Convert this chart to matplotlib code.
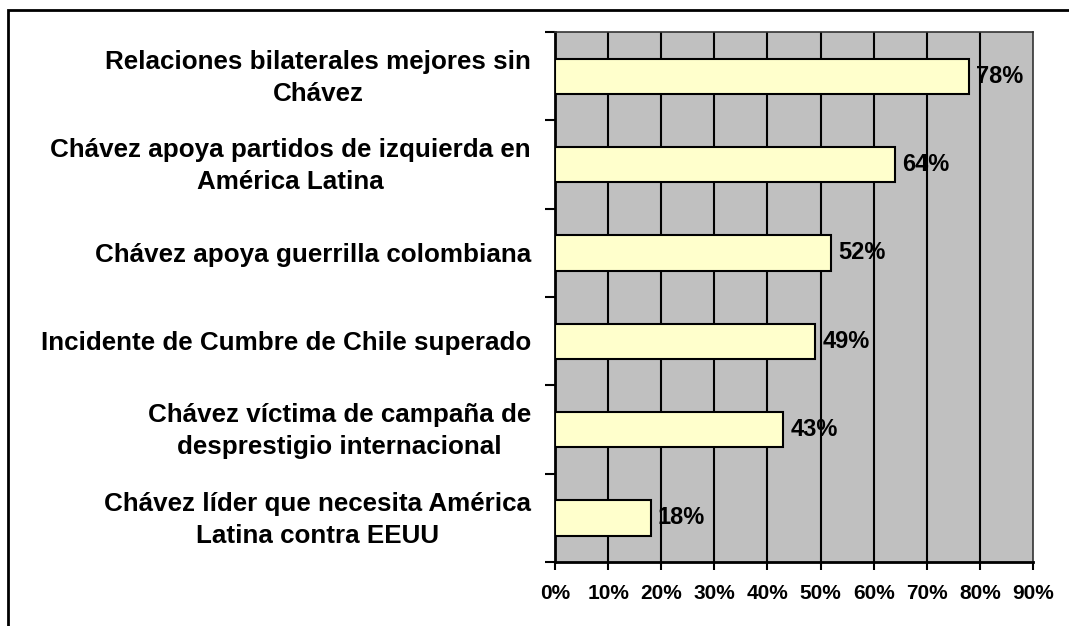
import matplotlib.pyplot as plt
from matplotlib.patches import Rectangle

# survey results, top to bottom
categories = [
    'Relaciones bilaterales mejores sin\nChávez',
    'Chávez apoya partidos de izquierda en\nAmérica Latina',
    'Chávez apoya guerrilla colombiana',
    'Incidente de Cumbre de Chile superado',
    'Chávez víctima de campaña de\ndesprestigio internacional',
    'Chávez líder que necesita América\nLatina contra EEUU',
]
values = [78, 64, 52, 49, 43, 18]
xticks = [0, 10, 20, 30, 40, 50, 60, 70, 80, 90]

plt.rcParams['font.family'] = ['Liberation Sans', 'DejaVu Sans']
plt.rcParams['font.weight'] = 'bold'

fig = plt.figure(figsize=(10.69, 6.26), dpi=100)
W, H = 1069, 626
ax = fig.add_axes([555 / W, 1 - 562 / H, (1033 - 555) / W, (562 - 32) / H])

# outer chart border (cropped at right and bottom)
fig.patches.append(Rectangle((8 / W, -0.01), 1.1, 1 - 10 / H + 0.01,
                             transform=fig.transFigure, fill=False,
                             edgecolor='black', linewidth=2))

ax.set_facecolor('#C0C0C0')
n = len(categories)
pos = list(range(n))
ax.barh(pos, values, height=0.4, color='#FFFFCC', edgecolor='black',
        linewidth=1.5, zorder=3)
ax.set_ylim(n - 0.5, -0.5)
ax.set_xlim(0, 90)

for x in xticks[1:-1]:
    ax.axvline(x, color='black', linewidth=1.5, zorder=1)

for p, v in zip(pos, values):
    ax.text(v + 1.3, p, f'{v}%', va='center', ha='left', fontsize=17,
            fontweight='bold', zorder=4)

ax.set_xticks(xticks)
ax.set_xticklabels([f'{x}%' for x in xticks], fontsize=15, fontweight='bold')
ax.tick_params(axis='x', length=6, width=1.5, pad=10)

# ticks at category boundaries, labels centred on categories
ax.set_yticks([i - 0.5 for i in range(n + 1)])
ax.set_yticklabels([])
ax.tick_params(axis='y', length=7, width=1.5)
for p, c in zip(pos, categories):
    ax.annotate(c, xy=(0, p + 0.02), xycoords=('axes fraction', 'data'),
                xytext=(-24, 0), textcoords='offset pixels',
                ha='right', va='center', multialignment='center',
                fontsize=18.7, fontweight='bold', linespacing=1.42)

for s in ['left', 'bottom']:
    ax.spines[s].set_linewidth(2)
for s in ['top', 'right']:
    ax.spines[s].set_linewidth(1.2)
    ax.spines[s].set_color('#333333')

fig.savefig('out.png', dpi=100)
